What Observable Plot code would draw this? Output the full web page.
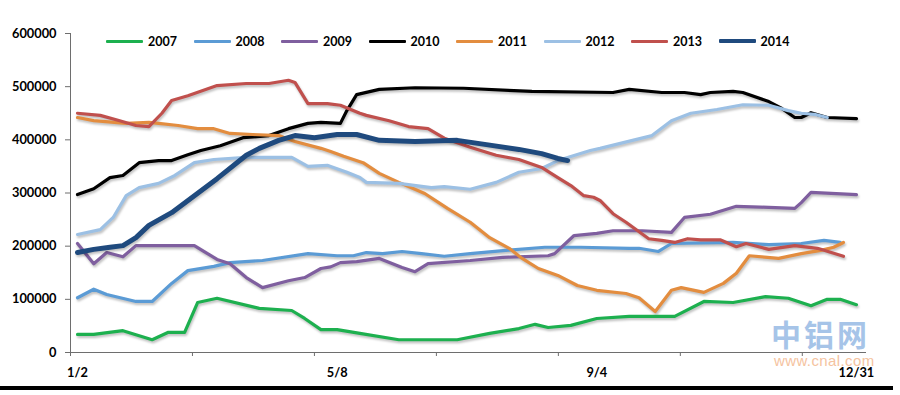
<!DOCTYPE html>
<html><head><meta charset="utf-8">
<script src="https://cdn.jsdelivr.net/npm/d3@7"></script>
<script src="https://cdn.jsdelivr.net/npm/@observablehq/plot@0.6"></script>
<style>
body{margin:0;background:#fff;}
#wrap{position:relative;width:900px;height:395px;overflow:hidden;font-family:Lato,"Liberation Sans",sans-serif;}
#chart{position:absolute;left:0;top:0;z-index:1;}
#legend{position:absolute;left:106px;top:32px;display:flex;z-index:2;}
.item{width:87.5px;height:18px;display:flex;align-items:center;}
.sw{width:37px;border-radius:1px;}
.lab{margin-left:5px;font-weight:bold;font-size:12.5px;color:#000;}
#wm1{position:absolute;left:771px;top:318px;font:bold 30px "Noto Sans CJK SC";line-height:30px;height:30px;color:#a6c4e8;letter-spacing:3px;z-index:0;}
#wm2{position:absolute;left:774px;top:355px;font:15px "Liberation Sans",sans-serif;line-height:12px;height:12px;color:#f5c3a0;letter-spacing:0.4px;z-index:0;}
#rule{position:absolute;left:0;top:386px;width:893px;height:3.5px;background:#000;z-index:2;}
</style></head>
<body>
<div id="wrap">
  <div id="wm1">中铝网</div>
  <div id="wm2">www.cnal.com</div>
  <div id="chart"></div>
  <div id="legend"></div>
  <div id="rule"></div>
</div>
<script>
// Series: [trading-day index, value in thousand tons]
const years = ["2007","2008","2009","2010","2011","2012","2013","2014"];
const colors = ["#1db04f","#5b9bd5","#7f5f9f","#000000","#e38d3f","#9cc0e4","#c0504d","#1f4a7e"];

const s2007 = [[0,34],[5,34],[14,41],[23,24],[28,38],[33,38],[37,94],[43,102],[56,83],[66,79],[70,64],[75,43],[80,43],[87,36],[99,24],[117,24],[127,36],[136,45],[141,53],[145,47],[152,51],[160,64],[170,68],[184,68],[193,96],[202,94],[212,105],[219,102],[226,88],[231,100],[235,100],[240,90]];
const s2008 = [[0,103],[5,119],[9,109],[18,96],[23,96],[29,130],[34,154],[42,162],[47,169],[57,173],[71,186],[80,182],[85,182],[89,188],[94,186],[100,190],[106,186],[113,181],[121,186],[132,192],[144,198],[155,198],[170,196],[173,196],[179,190],[183,205],[202,207],[213,203],[223,205],[230,211],[235,207]];
const s2009 = [[0,205],[5,167],[9,188],[14,180],[18,201],[36,201],[43,175],[47,167],[52,141],[57,122],[65,135],[70,141],[75,158],[78,161],[81,169],[86,171],[93,177],[100,160],[104,152],[108,167],[121,173],[131,179],[145,182],[147,186],[153,220],[160,224],[165,229],[174,229],[183,226],[187,254],[195,260],[203,275],[213,273],[221,271],[223,282],[226,301],[240,297]];
const s2010 = [[0,297],[5,308],[10,329],[14,333],[19,357],[25,361],[29,361],[34,372],[38,380],[44,389],[51,404],[59,408],[65,421],[71,431],[75,433],[81,431],[83,455],[86,485],[93,495],[104,498],[119,497],[140,491],[165,489],[170,495],[180,489],[187,489],[192,485],[195,489],[202,491],[205,489],[213,472],[217,459],[221,442],[223,442],[226,451],[231,442],[240,440]];
const s2011 = [[0,442],[5,436],[15,431],[22,433],[25,431],[31,427],[37,421],[42,421],[47,412],[54,410],[62,408],[67,397],[75,384],[78,378],[82,369],[88,357],[93,337],[99,320],[107,299],[114,271],[121,245],[127,216],[133,196],[137,177],[142,158],[148,145],[154,126],[160,117],[169,111],[173,103],[178,77],[183,117],[186,122],[193,113],[199,130],[203,149],[207,182],[216,177],[223,186],[229,192],[233,198],[236,207]];
const s2012 = [[0,222],[7,231],[11,254],[15,295],[19,310],[25,318],[30,333],[36,357],[42,363],[52,367],[66,367],[71,350],[77,352],[78,350],[83,339],[87,329],[89,320],[99,318],[109,310],[113,312],[121,307],[129,320],[136,339],[143,346],[148,361],[158,380],[161,384],[171,399],[177,408],[183,436],[189,450],[197,457],[205,466],[213,465],[219,455],[223,450],[227,448],[231,442]];
const s2013 = [[0,450],[7,446],[13,436],[18,427],[22,425],[26,450],[29,474],[34,483],[43,502],[52,506],[59,506],[65,512],[67,508],[71,468],[77,468],[81,465],[87,450],[89,446],[96,436],[102,425],[108,421],[113,403],[121,386],[129,371],[136,363],[143,348],[148,329],[152,314],[156,295],[159,292],[161,286],[165,261],[169,245],[176,214],[180,211],[184,207],[188,214],[192,212],[198,212],[203,199],[206,205],[213,194],[221,201],[228,196],[236,181]];
const s2014 = [[0,188],[5,194],[10,198],[14,201],[18,216],[22,239],[29,263],[36,295],[43,327],[52,371],[56,384],[62,399],[67,408],[73,404],[80,410],[86,410],[93,399],[104,397],[117,399],[126,391],[136,382],[143,374],[148,365],[151,361]];

const yTicks = [0,100000,200000,300000,400000,500000,600000];
const xLabelDays = [0,80,160,240];
const xLabels = ["1/2","5/8","9/4","12/31"];

const seriesList = [s2007,s2008,s2009,s2010,s2011,s2012,s2013,s2014];
const rows = seriesList.flatMap((s,k)=>s.map(([d,v])=>({year:years[k],day:d,value:v*1000})));

const xMin = -2.16, xMax = 243.1, tickStep = 37.58;
const xTicks = d3.range(7).map(k=>xMin+k*tickStep);

const chart = Plot.plot({
  width:900, height:395,
  marginLeft:70, marginRight:34, marginTop:33, marginBottom:43,
  style:{fontFamily:"Lato, 'Liberation Sans', sans-serif", fontSize:"12.8px", fontWeight:"bold", color:"#000", background:"transparent", overflow:"visible"},
  x:{domain:[xMin,xMax], label:null},
  y:{domain:[0,600000], label:null},
  color:{domain:years, range:colors},
  marks:[
    Plot.ruleY([0],{stroke:"#6e6e6e"}),
    Plot.ruleX([xMin],{stroke:"#6e6e6e"}),
    Plot.axisY({ticks:yTicks, tickSize:5, tickPadding:9, tickFormat:d3.format("d"), stroke:"#6e6e6e", label:null}),
    Plot.axisX({ticks:xTicks, tickSize:4, tickFormat:()=>"", stroke:"#6e6e6e", label:null}),
    Plot.axisX({ticks:xLabelDays, tickSize:0, tickPadding:15, tickFormat:d=>xLabels[xLabelDays.indexOf(d)], label:null}),
    Plot.line(rows.filter(r=>r.year!=="2014"),{x:"day",y:"value",z:"year",stroke:"year",strokeWidth:3.2}),
    Plot.line(rows.filter(r=>r.year==="2014"),{x:"day",y:"value",stroke:"year",strokeWidth:5})
  ]
});
d3.select(chart).selectAll('g[aria-label="line"]').style("filter","drop-shadow(1px 2.5px 1.2px rgba(0,0,0,0.25))");
document.getElementById("chart").appendChild(chart);

const legend = d3.select("#legend");
years.forEach((y,k)=>{
  const it = legend.append("div").attr("class","item");
  it.append("div").attr("class","sw").style("background",colors[k]).style("height",(y==="2014"?4:3)+"px");
  it.append("div").attr("class","lab").text(y);
});
</script>
</body></html>
